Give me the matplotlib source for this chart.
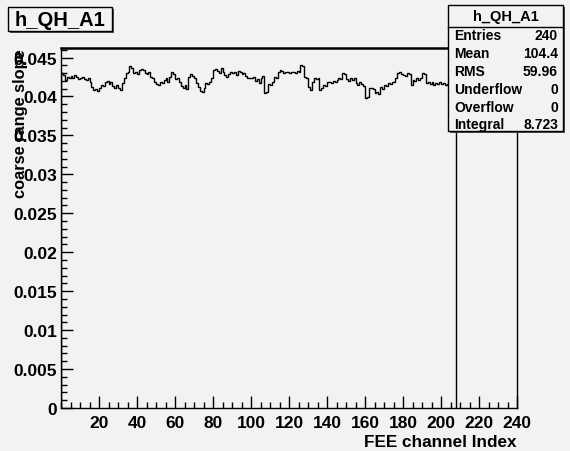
import numpy as np
import matplotlib
matplotlib.use("Agg")
import matplotlib.pyplot as plt
from matplotlib.patches import Rectangle
from matplotlib.ticker import FixedLocator, MultipleLocator

# ---------------------------------------------------------------- data
hist_name = "h_QH_A1"
x_label = "FEE channel Index"
y_label = "coarse range slope"
x_range = (0, 240)

# coarse range slope per FEE channel (channels 0..207; 208..239 are empty)
slope = [
    0.04296, 0.04275, 0.04211, 0.04253, 0.04241, 0.04266, 0.04232, 0.04275, 0.04253, 0.04224,
    0.04241, 0.04253, 0.04224, 0.04206, 0.04232, 0.04181, 0.04126, 0.04083, 0.04096, 0.04071,
    0.04113, 0.04147, 0.04139, 0.04181, 0.04198, 0.04156, 0.04190, 0.04130, 0.04113, 0.04147,
    0.04105, 0.04079, 0.04168, 0.04232, 0.04296, 0.04317, 0.04394, 0.04368, 0.04296, 0.04317,
    0.04283, 0.04334, 0.04351, 0.04338, 0.04296, 0.04283, 0.04309, 0.04253, 0.04232, 0.04181,
    0.04156, 0.04147, 0.04190, 0.04168, 0.04211, 0.04232, 0.04190, 0.04253, 0.04309, 0.04283,
    0.04224, 0.04241, 0.04190, 0.04139, 0.04113, 0.04147, 0.04096, 0.04253, 0.04283, 0.04266,
    0.04232, 0.04168, 0.04126, 0.04071, 0.04062, 0.04105, 0.04168, 0.04156, 0.04190, 0.04232,
    0.04338, 0.04351, 0.04326, 0.04296, 0.04360, 0.04317, 0.04275, 0.04253, 0.04283, 0.04309,
    0.04296, 0.04317, 0.04275, 0.04326, 0.04309, 0.04283, 0.04296, 0.04266, 0.04232, 0.04241,
    0.04232, 0.04253, 0.04198, 0.04224, 0.04168, 0.04241, 0.04266, 0.04041, 0.04062, 0.04156,
    0.04147, 0.04181, 0.04253, 0.04232, 0.04317, 0.04338, 0.04326, 0.04296, 0.04309, 0.04317,
    0.04296, 0.04309, 0.04317, 0.04300, 0.04326, 0.04309, 0.04402, 0.04394, 0.04253, 0.04232,
    0.04126, 0.04083, 0.04190, 0.04232, 0.04224, 0.04241, 0.04083, 0.04105, 0.04147, 0.04139,
    0.04181, 0.04190, 0.04168, 0.04198, 0.04190, 0.04211, 0.04232, 0.04224, 0.04296, 0.04283,
    0.04224, 0.04198, 0.04232, 0.04211, 0.04241, 0.04168, 0.04147, 0.04181, 0.04156, 0.04139,
    0.03986, 0.03998, 0.04105, 0.04113, 0.04096, 0.04041, 0.04062, 0.04028, 0.04126, 0.04096,
    0.04147, 0.04139, 0.04168, 0.04156, 0.04190, 0.04181, 0.04232, 0.04296, 0.04309, 0.04283,
    0.04275, 0.04266, 0.04296, 0.04283, 0.04147, 0.04211, 0.04198, 0.04232, 0.04211, 0.04241,
    0.04296, 0.04283, 0.04168, 0.04190, 0.04156, 0.04181, 0.04147, 0.04168, 0.04156, 0.04181,
    0.04156, 0.04168, 0.04147, 0.04164, 0.04190, 0.04181, 0.04190, 0.04172,
]

x_ticks = [20, 40, 60, 80, 100, 120, 140, 160, 180, 200, 220, 240]
y_ticks = [0, 0.005, 0.01, 0.015, 0.02, 0.025, 0.03, 0.035, 0.04, 0.045]
y_tick_labels = ["0", "0.005", "0.01", "0.015", "0.02", "0.025",
                 "0.03", "0.035", "0.04", "0.045"]

stat_names = ["Entries", "Mean", "RMS", "Underflow", "Overflow", "Integral"]
stat_values = ["240", "104.4", "59.96", "0", "0", "8.723"]

# ---------------------------------------------------------------- style
W, H = 570, 452
BG = "#f2f2f2"
FONT = "Liberation Sans"
plt.rcParams["font.family"] = [FONT, "DejaVu Sans"]
plt.rcParams["font.weight"] = "bold"


def fx(px):
    return px / W


def fy(py):
    return 1.0 - py / H


fig = plt.figure(figsize=(W / 100, H / 100), dpi=100, facecolor=BG)

# frame (pixel box 61..517 x 49..409)
ax = fig.add_axes([fx(61), fy(409), (517 - 61) / W, (409 - 49) / H])
ax.set_facecolor(BG)

edges = np.arange(len(slope) + 1)
ax.stairs(slope, edges, baseline=0, color="black", linewidth=1.0)

ax.set_xlim(*x_range)
ax.set_ylim(0, 1.05 * max(slope))

ax.xaxis.set_major_locator(FixedLocator(x_ticks))
ax.xaxis.set_minor_locator(MultipleLocator(5))
ax.yaxis.set_major_locator(FixedLocator(y_ticks))
ax.yaxis.set_minor_locator(MultipleLocator(0.001))
ax.set_xticklabels([str(t) for t in x_ticks])
ax.set_yticklabels(y_tick_labels)

ax.tick_params(axis="both", which="both", direction="in", color="black",
               top=False, right=False, labelsize=12.5)
ax.tick_params(axis="both", which="major", length=8.5, width=1.0)
ax.tick_params(axis="both", which="minor", length=4.2, width=1.0)
ax.tick_params(axis="x", which="major", pad=5)
ax.tick_params(axis="y", which="major", pad=3)
for lab in ax.get_xticklabels() + ax.get_yticklabels():
    lab.set_fontweight("bold")

for side, sp in ax.spines.items():
    sp.set_color("black")
    sp.set_linewidth(1.0)
ax.spines["top"].set_linewidth(1.8)

# axis titles placed like ROOT (right / top aligned)
fig.text(fx(517), fy(447), x_label, ha="right", va="baseline",
         fontsize=12.3, fontweight="bold", color="black")
fig.text(fx(21), fy(49), y_label, ha="center", va="top", rotation=90,
         fontsize=11.8, fontweight="bold", color="black")

# ---------------------------------------------------------------- title pave
def pave(x0, y0, x1, y1, shadow=2):
    fig.add_artist(Rectangle((fx(x0 + shadow), fy(y1 + shadow)),
                             (x1 - x0) / W, (y1 - y0) / H,
                             transform=fig.transFigure, facecolor="#505050",
                             edgecolor="none", zorder=10))
    fig.add_artist(Rectangle((fx(x0), fy(y1)), (x1 - x0) / W, (y1 - y0) / H,
                             transform=fig.transFigure, facecolor=BG,
                             edgecolor="black", linewidth=1.0, zorder=11))


pave(8, 8, 112, 32)
fig.text(fx(60), fy(20.5), hist_name, ha="center", va="center",
         fontsize=14.5, fontweight="bold", zorder=12)

# ---------------------------------------------------------------- stats pave
sx0, sy0, sx1, sy1 = 448, 6, 563, 132
pave(sx0, sy0, sx1, sy1)
fig.add_artist(plt.Line2D([fx(sx0), fx(sx1)], [fy(28), fy(28)],
                          transform=fig.transFigure, color="black",
                          linewidth=1.0, zorder=12))
fig.text(fx((sx0 + sx1) / 2), fy(17), hist_name, ha="center", va="center",
         fontsize=10.5, fontweight="bold", zorder=12)
row_y = [36, 54, 72, 90, 108, 125]
for name, val, yy in zip(stat_names, stat_values, row_y):
    fig.text(fx(454), fy(yy), name, ha="left", va="center",
             fontsize=10, fontweight="bold", zorder=12)
    fig.text(fx(558), fy(yy), val, ha="right", va="center",
             fontsize=10, fontweight="bold", zorder=12)

fig.savefig("out.png", dpi=100, facecolor=BG)
